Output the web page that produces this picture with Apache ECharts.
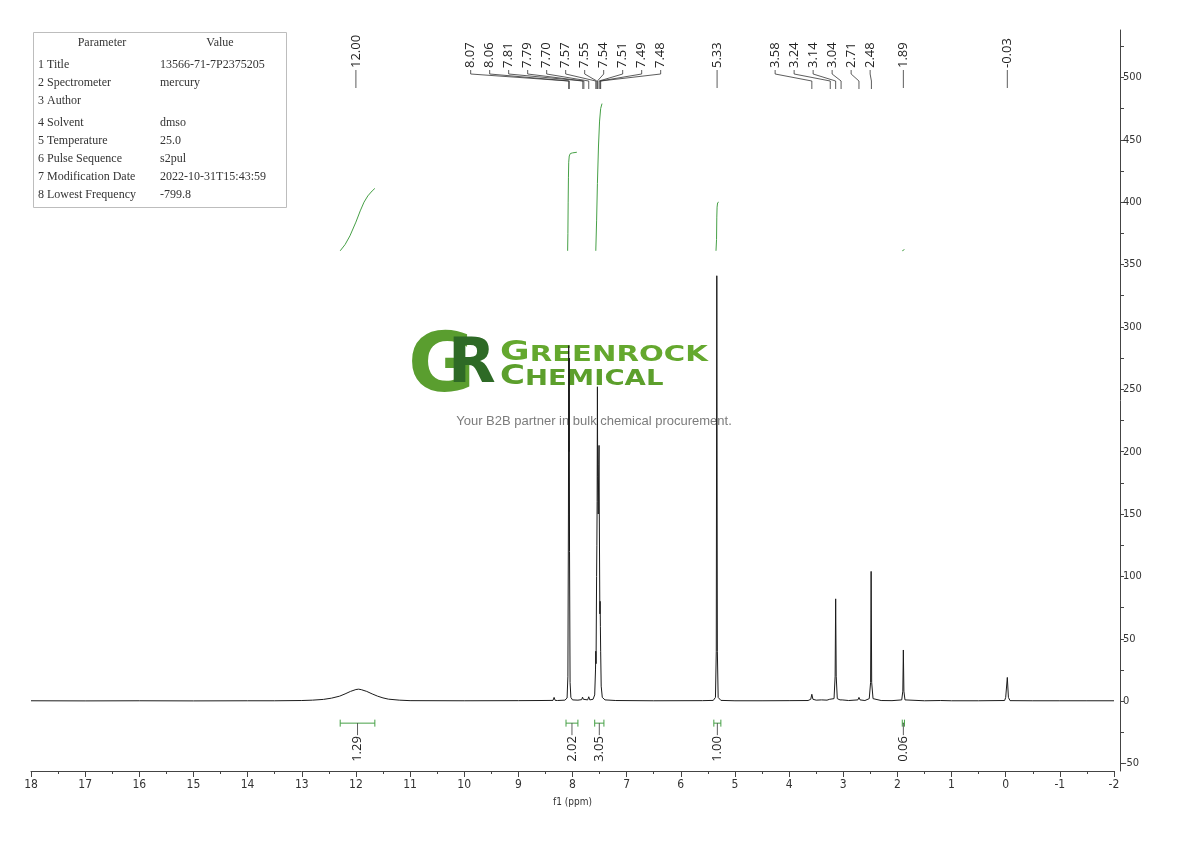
<!DOCTYPE html>
<html><head><meta charset="utf-8">
<script src="https://cdn.jsdelivr.net/npm/echarts@6/dist/echarts.min.js"></script>
<style>html,body{margin:0;padding:0;background:#fff}#c{width:1190px;height:841px}</style>
</head><body><div id="c"></div>
<script>
// ---------- data ----------
const spectrum = [
 [18.0,0.3],[17.0,0.2],[16.0,0.3],[15.0,0.2],[14.0,0.3],[13.5,0.3],[13.0,0.5],[12.8,0.8],[12.6,1.4],[12.45,2.4],
 [12.3,4.0],[12.2,5.8],[12.1,7.8],[12.0,9.3],[11.95,9.6],[11.9,9.2],[11.8,7.8],[11.7,5.8],[11.6,4.0],[11.5,2.6],
 [11.4,1.6],[11.2,0.8],[11.0,0.4],[10.0,0.3],[9.0,0.4],[8.6,0.5],[8.36,0.6],[8.34,3.0],[8.32,0.6],[8.28,0.5],
 [8.27,1.8],[8.26,0.5],[8.14,0.8],[8.10,2.5],[8.085,20],[8.075,150],[8.07,285],[8.065,200],[8.06,275],[8.055,120],
 [8.045,15],[8.03,3],[8.0,1],[7.90,0.8],[7.83,1.2],[7.815,3.2],[7.80,1.5],[7.79,3.0],[7.78,1.0],[7.72,1.0],
 [7.70,3.5],[7.68,1.0],[7.62,1.5],[7.59,5],[7.575,25],[7.57,40],[7.565,30],[7.555,100],[7.55,125],[7.545,160],
 [7.54,252],[7.535,180],[7.525,150],[7.515,190],[7.51,205],[7.505,150],[7.495,70],[7.49,80],[7.485,60],[7.48,40],
 [7.47,12],[7.45,3],[7.40,1],[7.2,0.5],[6.5,0.3],[5.6,0.4],[5.40,0.6],[5.36,3],[5.345,40],[5.335,341],
 [5.325,40],[5.31,3],[5.26,0.6],[5.0,0.3],[4.5,0.3],[4.0,0.4],[3.65,0.5],[3.60,1.5],[3.58,5.5],[3.56,1.5],
 [3.50,0.8],[3.40,1.0],[3.30,0.8],[3.25,1.5],[3.24,2.5],[3.22,1.2],[3.17,2],[3.15,20],[3.14,82],[3.13,20],
 [3.11,2],[3.06,1],[3.04,2],[3.02,1],[2.90,0.5],[2.73,1],[2.71,3],[2.69,1],[2.60,0.5],[2.52,2],
 [2.495,15],[2.485,104],[2.475,15],[2.45,2],[2.30,0.5],[2.10,0.4],[1.92,1],[1.90,8],[1.89,41],[1.88,8],
 [1.86,1],[1.5,0.3],[1.2,0.5],[1.0,0.3],[0.5,0.3],[0.02,0.5],[0.0,3],[-0.03,19],[-0.05,3],[-0.08,0.4],
 [-0.5,0.3],[-1.0,0.3],[-1.5,0.3],[-2.0,0.3]
];
const peakLabels = [12.00, 8.07, 8.06, 7.81, 7.79, 7.70, 7.57, 7.55, 7.54, 7.51, 7.49, 7.48,
                    5.33, 3.58, 3.24, 3.14, 3.04, 2.71, 2.48, 1.89, -0.03];
const integralRanges = [[12.29, 11.65], [8.12, 7.90], [7.59, 7.42], [5.39, 5.26], [1.91, 1.87]];
const integralValues = ['1.29', '2.02', '3.05', '1.00', '0.06'];
const integralCurve1 = [[12.29,361],[12.2,366],[12.11,373],[12.0,384],[11.92,393],[11.85,400],[11.78,405],[11.7,409],[11.65,411]];
const integralCurve2 = [[8.09,361],[8.085,375],[8.08,400],[8.075,420],[8.07,432],[8.06,437],[8.04,439],[8.0,439.5],[7.92,440]];
const integralCurve3 = [[7.57,361],[7.555,385],[7.54,415],[7.52,445],[7.50,465],[7.48,475],[7.455,479]];
const integralCurve4 = [[5.35,361],[5.34,370],[5.335,388],[5.33,396],[5.32,399.5],[5.30,400],[5.29,400]];
const integralCurve5 = [[1.91,361],[1.89,361.6],[1.87,362]];
const yLabelValues = [-50, 0, 50, 100, 150, 200, 250, 300, 350, 400, 450, 500];
const yTickValues = [-50,-25,0,25,50,75,100,125,150,175,200,225,250,275,300,325,350,375,400,425,450,475,500,525];
const tableHeader = ['Parameter', 'Value'];
const tableRows = [
 ['1 Title', '13566-71-7P2375205'],
 ['2 Spectrometer', 'mercury'],
 ['3 Author', ''],
 ['4 Solvent', 'dmso'],
 ['5 Temperature', '25.0'],
 ['6 Pulse Sequence', 's2pul'],
 ['7 Modification Date', '2022-10-31T15:43:59'],
 ['8 Lowest Frequency', '-799.8']
];
const xAxisName = 'f1 (ppm)';
const wmLine1 = ['G', 'REENROCK'];
const wmLine2 = ['C', 'HEMICAL'];
const wmTagline = 'Your B2B partner in bulk chemical procurement.';

// ---------- rendering ----------
const narrow = "'DejaVu Sans Condensed','Liberation Sans Narrow',sans-serif";
const labelFont = "13px 'Open Sans', 'DejaVu Sans', sans-serif";
const inkColor = '#222';
const greenInt = '#46a046';

function renderPeakLabels(params, api) {
  const children = [];
  const px = peakLabels.map(v => api.coord([v, 0])[0]);
  const clusters = []; let cur = [0];
  for (let i = 1; i < px.length; i++) {
    if (px[i] - px[i - 1] < 19) cur.push(i); else { clusters.push(cur); cur = [i]; }
  }
  clusters.push(cur);
  const tb = 68, gap = 19;
  const ls = { stroke: '#333', lineWidth: 0.8, fill: null };
  const addText = (x, v) => children.push({
    type: 'text', x: x, y: tb, rotation: Math.PI / 2,
    style: { text: v.toFixed(2), x: 0, y: 0, textAlign: 'left', textVerticalAlign: 'middle', font: labelFont, fill: inkColor }
  });
  clusters.forEach(cl => {
    const n = cl.length;
    if (n === 1) {
      const x = px[cl[0]];
      children.push({ type: 'line', shape: { x1: x, y1: tb + 2, x2: x, y2: 88 }, style: ls });
      addText(x, peakLabels[cl[0]]);
    } else {
      const center = (px[cl[0]] + px[cl[n - 1]]) / 2 - 19;
      cl.forEach((i, k) => {
        const lx = center + (k - (n - 1) / 2) * gap;
        children.push({ type: 'polyline', shape: { points: [[lx, tb + 2], [lx, 74], [px[i], 81], [px[i], 89]] }, style: ls });
        addText(lx, peakLabels[i]);
      });
    }
  });
  return { type: 'group', children };
}

function renderIntegral(params, api) {
  const i = params.dataIndex;
  const a = api.coord([api.value(0), 0]);
  const b = api.coord([api.value(1), 0]);
  const yB = a[1] + 22;
  const cx = (a[0] + b[0]) / 2;
  const gs = { stroke: greenInt, lineWidth: 1, fill: null };
  return {
    type: 'group', children: [
      { type: 'line', shape: { x1: a[0], y1: yB, x2: b[0], y2: yB }, style: gs },
      { type: 'line', shape: { x1: a[0], y1: yB - 3.5, x2: a[0], y2: yB + 3.5 }, style: gs },
      { type: 'line', shape: { x1: b[0], y1: yB - 3.5, x2: b[0], y2: yB + 3.5 }, style: gs },
      { type: 'line', shape: { x1: cx, y1: yB, x2: cx, y2: yB + 12 }, style: { stroke: '#333', lineWidth: 0.8 } },
      { type: 'text', x: cx, y: yB + 13, rotation: Math.PI / 2,
        style: { text: integralValues[i], x: 0, y: 0, textAlign: 'right', textVerticalAlign: 'middle', font: labelFont, fill: inkColor } }
    ]
  };
}

const tableFont = "12px 'Liberation Serif', 'DejaVu Serif', serif";
const tableRowY = [65, 83, 101, 123, 141, 159, 177, 195];
const graphics = [
  { type: 'rect', shape: { x: 33.5, y: 32.5, width: 253, height: 175 }, style: { fill: '#fff', stroke: '#bdbdbd', lineWidth: 1 }, z: 1 },
  { type: 'text', x: 102, y: 43, style: { text: tableHeader[0], textAlign: 'center', textVerticalAlign: 'middle', font: tableFont, fill: '#333' }, z: 2 },
  { type: 'text', x: 220, y: 43, style: { text: tableHeader[1], textAlign: 'center', textVerticalAlign: 'middle', font: tableFont, fill: '#333' }, z: 2 }
];
tableRows.forEach((r, k) => {
  graphics.push({ type: 'text', x: 38, y: tableRowY[k], style: { text: r[0], textVerticalAlign: 'middle', font: tableFont, fill: '#333' }, z: 2 });
  graphics.push({ type: 'text', x: 160, y: tableRowY[k], style: { text: r[1], textVerticalAlign: 'middle', font: tableFont, fill: '#333' }, z: 2 });
});
// watermark
graphics.push(
  { type: 'text', x: 408, y: 370, z: -1, style: { text: 'G', font: "bold 82px 'DejaVu Sans', sans-serif", fill: '#5a9e2f', textVerticalAlign: 'middle' } },
  { type: 'text', x: 448, y: 366, z: -1, style: { text: 'R', font: "bold 62px 'DejaVu Sans', sans-serif", fill: '#2e6a26', textVerticalAlign: 'middle' } },
  { type: 'text', x: 500, y: 353, scaleX: 1.39, z: -1, style: { text: '{b|' + wmLine1[0] + '}{s|' + wmLine1[1] + '}', x: 0, y: 0, textVerticalAlign: 'middle',
      rich: { b: { fontSize: 26, fontWeight: 'bold', fontFamily: 'DejaVu Sans', fill: '#64a82e', verticalAlign: 'bottom' }, s: { fontSize: 21, fontWeight: 'bold', fontFamily: 'DejaVu Sans', fill: '#64a82e', verticalAlign: 'bottom' } } } },
  { type: 'text', x: 500, y: 377, scaleX: 1.31, z: -1, style: { text: '{b|' + wmLine2[0] + '}{s|' + wmLine2[1] + '}', x: 0, y: 0, textVerticalAlign: 'middle',
      rich: { b: { fontSize: 26, fontWeight: 'bold', fontFamily: 'DejaVu Sans', fill: '#5c9f2c', verticalAlign: 'bottom' }, s: { fontSize: 21, fontWeight: 'bold', fontFamily: 'DejaVu Sans', fill: '#5c9f2c', verticalAlign: 'bottom' } } } },
  { type: 'text', x: 594, y: 421, z: -1, style: { text: wmTagline, textAlign: 'center', textVerticalAlign: 'middle', font: "13px 'Liberation Sans', Arial, sans-serif", fill: '#7c7c7c' } }
);

const curveSeries = [integralCurve1, integralCurve2, integralCurve3, integralCurve4, integralCurve5].map(c => ({
  type: 'line', data: c, showSymbol: false, silent: true, z: 3,
  lineStyle: { color: greenInt, width: 1 }
}));

const chart = echarts.init(document.getElementById('c'));
chart.setOption({
  animation: false,
  backgroundColor: '#fff',
  grid: { left: 31, right: 76, top: 30, bottom: 70 },
  xAxis: {
    type: 'value', inverse: true, min: -2, max: 18, interval: 1,
    axisLine: { onZero: false, lineStyle: { color: '#444', width: 1 } },
    axisTick: { length: 6, lineStyle: { color: '#444' } },
    minorTick: { show: true, splitNumber: 2, length: 3, lineStyle: { color: '#444' } },
    axisLabel: { fontSize: 12, color: '#333', margin: 8, fontFamily: narrow, formatter: v => String(v) },
    splitLine: { show: false }, minorSplitLine: { show: false },
    name: xAxisName, nameLocation: 'middle', nameGap: 26,
    nameTextStyle: { fontSize: 10, color: '#333', fontFamily: narrow }
  },
  yAxis: {
    type: 'value', position: 'right', offset: 6, min: -56, max: 538,
    axisLine: { show: true, onZero: false, lineStyle: { color: '#444', width: 1 } },
    axisTick: { show: true, customValues: yTickValues, length: 4, lineStyle: { color: '#444' } },
    axisLabel: { customValues: yLabelValues, fontSize: 11, color: '#333', margin: 3, fontFamily: narrow },
    splitLine: { show: false }
  },
  graphic: graphics,
  series: [
    { type: 'line', data: spectrum, showSymbol: false, silent: true, z: 4,
      lineStyle: { color: '#1b1b1b', width: 1 } },
    ...curveSeries,
    { type: 'custom', data: [[0, 0]], renderItem: renderPeakLabels, silent: true, z: 5, clip: false },
    { type: 'custom', data: integralRanges.map((r, i) => [r[0], r[1], i]), renderItem: renderIntegral, silent: true, z: 5, clip: false,
      encode: { x: [0, 1], y: 2 } }
  ]
});
</script>
</body></html>
